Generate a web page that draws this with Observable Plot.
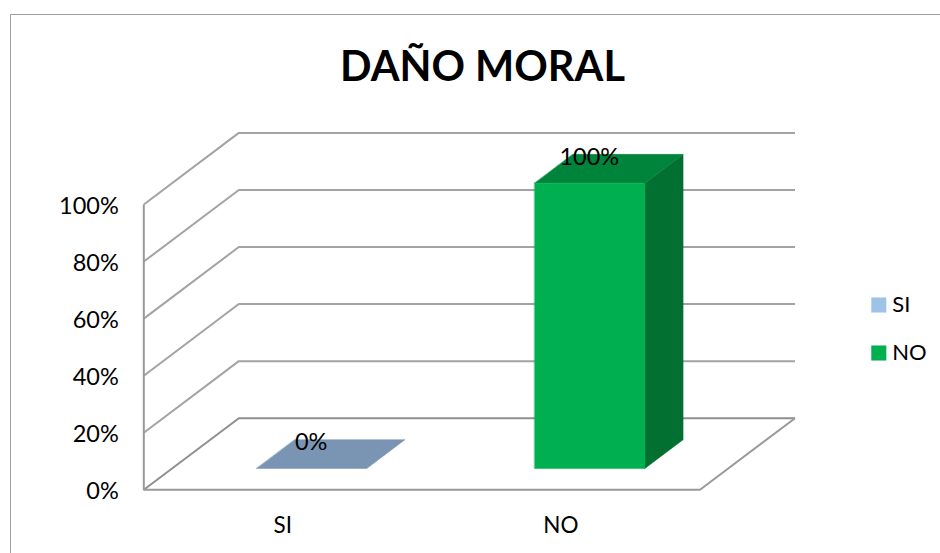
<!DOCTYPE html>
<html>
<head>
<meta charset="utf-8">
<script src="https://cdn.jsdelivr.net/npm/d3@7"></script>
<script src="https://cdn.jsdelivr.net/npm/@observablehq/plot@0.6"></script>
<style>
html,body{margin:0;padding:0;background:#fff;width:940px;height:553px;overflow:hidden}
#frame{position:absolute;left:10px;top:14px;width:940px;height:560px;border:1.5px solid #a0a0a0;box-sizing:border-box}
#chart{position:absolute;left:0;top:0}
</style>
</head>
<body>
<div id="frame"></div>
<div id="chart"></div>
<script>
const titleText = "DAÑO MORAL";
const categories = ["SI", "NO"];
const values = [0, 100];
const labels = ["0%", "100%"];
const legendColors = ["#9dc3e6", "#00b050"];
const yTicks = [0, 20, 40, 60, 80, 100];

// oblique projection of the 3D chart: depth 0 = front, 1 = back wall
const depthX = 0.3417;   // category units
const depthY = 25.1;     // percentage points
const P = (c, v, d) => ({x: c + d * depthX, y: v + d * depthY});

const barFront = 0.298, barBack = 0.70, barL = 0.3035, barR = 0.70;

const poly = (pts, fill) => Plot.line(pts, {x: "x", y: "y", fill, stroke: fill, strokeWidth: 0.5, curve: "linear-closed"});
const edge = (pts, stroke = "#999999", strokeWidth = 2) => Plot.line(pts, {x: "x", y: "y", stroke, strokeWidth, strokeLinecap: "butt", strokeLinejoin: "miter"});

const marks = [];

// walls: grid lines running along the side wall and the back wall
for (const v of yTicks) {
  marks.push(edge([P(0, v, 0), P(0, v, 1), P(2, v, 1)], v === 0 ? "#8f8f8f" : "#a3a3a3"));
}
// front axis, floor front edge and floor right edge
marks.push(edge([P(0, 100, 0), P(0, 0, 0), P(2, 0, 0), P(2, 0, 1)]));

// bars
categories.forEach((c, i) => {
  const v = values[i];
  const l = i + barL, r = i + barR;
  if (v === 0) {
    marks.push(poly([P(l, 0, barFront), P(r, 0, barFront), P(r, 0, barBack), P(l, 0, barBack)], "#7a94b3"));
  } else {
    marks.push(poly([P(r, 0, barFront), P(r, 0, barBack), P(r, v, barBack), P(r, v, barFront)], "#027030"));
    marks.push(poly([P(l, v, barFront), P(r, v, barFront), P(r, v, barBack), P(l, v, barBack)], "#00843c"));
    marks.push(poly([P(l, 0, barFront), P(r, 0, barFront), P(r, v, barFront), P(l, v, barFront)], legendColors[i]));
  }
});

// value labels
const labelData = categories.map((c, i) => ({...P(i + 0.5, values[i], barFront), t: labels[i]}));
marks.push(Plot.text(labelData, {x: "x", y: "y", text: "t", dy: -26, fontSize: 23.5, fill: "#000"}));

// axes
marks.push(Plot.axisY(yTicks, {
  tickFormat: d => d + "%", tickSize: 0, tickPadding: 25, dy: 1.5, fontSize: 23.5, label: null, fill: "#000", anchor: "left"
}));
marks.push(Plot.axisX([0.5, 1.5], {
  tickFormat: d => categories[d - 0.5], tickSize: 0, tickPadding: 27, fontSize: 22.5, label: null, fill: "#000", anchor: "bottom"
}));

// title
marks.push(Plot.text([titleText], {
  frameAnchor: "top-left", lineAnchor: "middle", dx: 338.7, dy: -137, textAnchor: "middle", fontSize: 41.5, fontWeight: 700, fill: "#000"
}));

// legend
categories.forEach((c, i) => {
  marks.push(Plot.dot([c], {frameAnchor: "top-left", dx: 735, dy: 100.5 + i * 48, symbol: "square", r: 8.5, fill: legendColors[i], stroke: "none"}));
  marks.push(Plot.text([c], {frameAnchor: "top-left", lineAnchor: "middle", dx: 748.5, dy: 100.5 + i * 48, textAnchor: "start", fontSize: 22, fill: "#000"}));
});

const plot = Plot.plot({
  width: 940, height: 553,
  marginTop: 204, marginBottom: 63.7, marginLeft: 143.3, marginRight: 240.5,
  x: {domain: [0, 2], axis: null},
  y: {domain: [0, 100], axis: null},
  style: {background: "transparent", fontFamily: "Lato, Carlito, sans-serif", overflow: "visible"},
  marks
});
document.getElementById("chart").append(plot);
</script>
</body>
</html>
